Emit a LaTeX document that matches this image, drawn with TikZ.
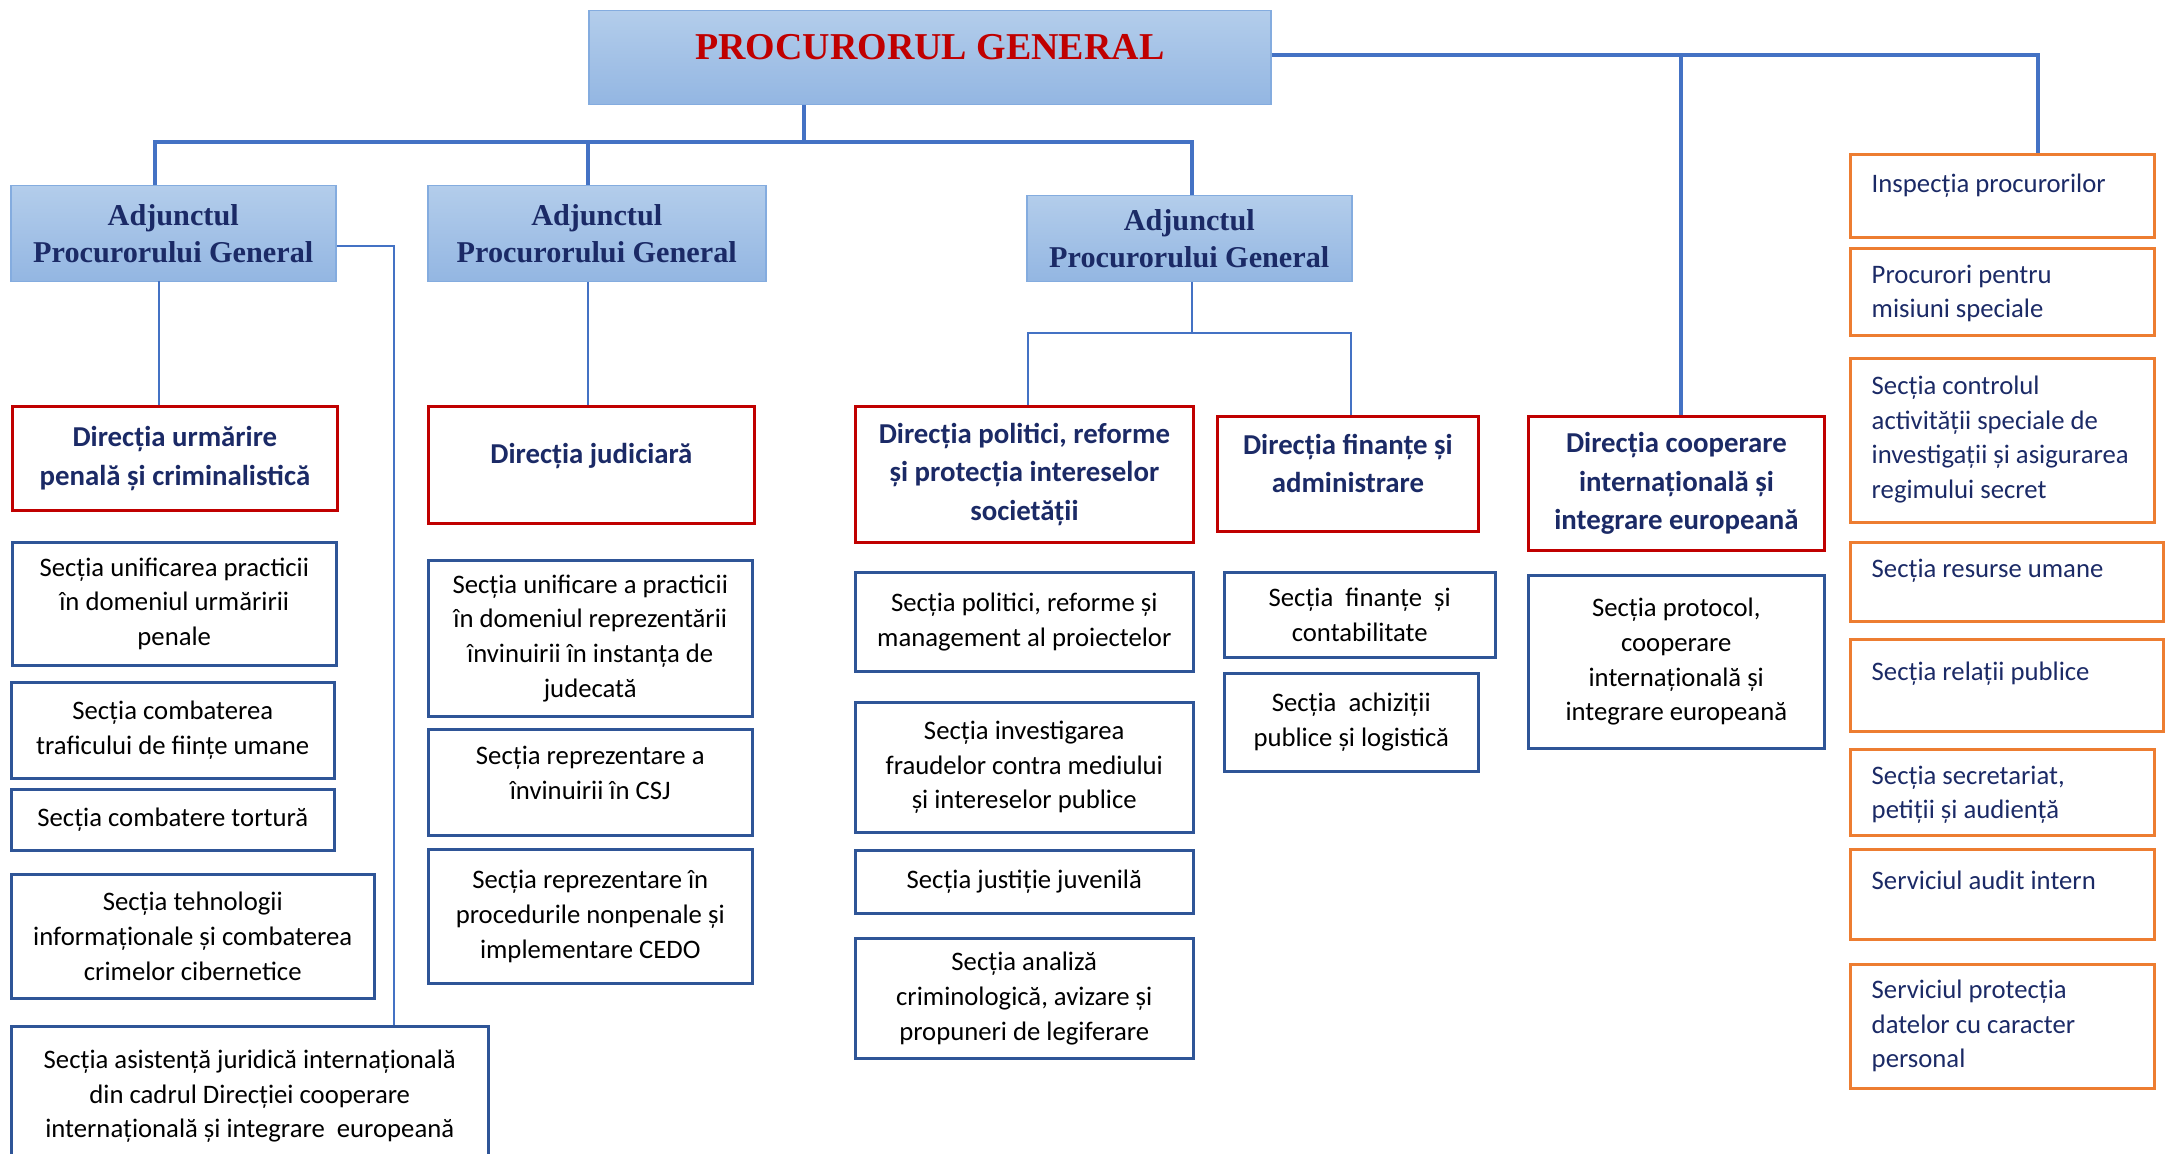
\documentclass[tikz,border=0pt]{standalone}
\usepackage{fontspec}
\setmainfont{Carlito}
\newfontfamily\timesfont{Liberation Serif}
\usetikzlibrary{positioning}

\definecolor{lineblue}{HTML}{4472C4}
\definecolor{boxred}{HTML}{C00000}
\definecolor{boxblue}{HTML}{2F5597}
\definecolor{boxorange}{HTML}{ED7D31}
\definecolor{navy}{HTML}{1B2A66}
\definecolor{headtop}{HTML}{B3CDEB}
\definecolor{headbot}{HTML}{93B6E2}
\definecolor{headline}{HTML}{84ACDF}

\tikzset{
  headbox/.style={draw=headline, line width=0.15mm, top color=headtop, bottom color=headbot,
    anchor=north west, inner sep=0pt, align=center,
    font=\timesfont\bfseries\fontsize{8.6}{10.6}\selectfont, text=navy},
  dirbox/.style={draw=boxred, line width=0.28mm, fill=white, anchor=north west, inner sep=0pt,
    align=center, font=\bfseries\fontsize{8.2}{11}\selectfont, text=navy},
  secbox/.style={draw=boxblue, line width=0.25mm, anchor=north west, inner sep=0pt,
    align=center, font=\fontsize{7.6}{9.9}\selectfont},
  sidebox/.style={draw=boxorange, line width=0.3mm, anchor=north west, inner sep=0pt},
  sidetext/.style={align=left, inner sep=0pt, font=\fontsize{7.6}{9.9}\selectfont, text=navy},
  trunk/.style={lineblue, line width=0.4mm},
  branch/.style={lineblue, line width=0.2mm},
}

\begin{document}
\begin{tikzpicture}[x=0.1mm, y=-0.1mm]

	\useasboundingbox (0,0) rectangle (2169,1154);
	\clip (0,0) rectangle (2169,1154);

	% top of the tree
	\node[headbox, minimum width=68.2mm, text height=4.9mm, text depth=4.5mm, inner ysep=0pt,
	      font=\timesfont\bfseries\fontsize{10.8}{12}\selectfont, text=boxred] (pg) at (588,10) {PROCURORUL GENERAL};

	\node[headbox, minimum width=32.5mm, minimum height=9.6mm] (a1) at (10,185) {Adjunctul\\Procurorului General};
	\node[headbox, minimum width=33.8mm, minimum height=9.6mm] (a2) at (427,185) {Adjunctul\\Procurorului General};
	\node[headbox, minimum width=32.5mm, minimum height=8.6mm] (a3) at (1026,195) {Adjunctul\\Procurorului General};

	% directions
	\node[dirbox, minimum width=32.5mm, minimum height=10.4mm] (d1) at (11,405) {Direcția urmărire\\penală și criminalistică};
	\node[dirbox, minimum width=32.6mm, minimum height=11.7mm, text depth=2.4mm] (d2) at (427,405) {Direcția judiciară};
	\node[dirbox, minimum width=33.8mm, minimum height=13.6mm] (d3) at (854,405) {Direcția politici, reforme\\și protecția intereselor\\societății};
	\node[dirbox, minimum width=26.1mm, minimum height=11.5mm, text depth=2.1mm] (d4) at (1216,415) {Direcția finanțe și\\administrare};
	\node[dirbox, minimum width=29.6mm, minimum height=13.4mm] (d5) at (1527,415) {Direcția cooperare\\internațională și\\integrare europeană};

	% sections
	\node[secbox, minimum width=32.4mm, minimum height=12.3mm] (s1a) at (11,541) {Secția unificarea practicii\\în domeniul urmăririi\\penale};
	\node[secbox, minimum width=32.3mm, minimum height=9.6mm] (s1b) at (10,681) {Secția combaterea\\traficului de ființe umane};
	\node[secbox, minimum width=32.3mm, minimum height=6.1mm] (s1c) at (10,788) {Secția combatere tortură};
	\node[secbox, minimum width=36.3mm, minimum height=12.4mm] (s1d) at (10,873) {Secția tehnologii\\informaționale și combaterea\\crimelor cibernetice};
	\node[secbox, minimum width=47.7mm, minimum height=14.0mm] (s1e) at (10,1025) {Secția asistență juridică internațională\\din cadrul Direcției cooperare\\internațională și integrare\ \ europeană};

	\node[secbox, minimum width=32.4mm, minimum height=15.6mm] (s2a) at (427,559) {Secția unificare a practicii\\în domeniul reprezentării\\învinuirii în instanța de\\judecată};
	\node[secbox, minimum width=32.4mm, minimum height=10.6mm, text depth=1.9mm] (s2b) at (427,728) {Secția reprezentare a\\învinuirii în CSJ};
	\node[secbox, minimum width=32.4mm, minimum height=13.4mm] (s2c) at (427,848) {Secția reprezentare în\\procedurile nonpenale și\\implementare CEDO};

	\node[secbox, minimum width=33.8mm, minimum height=9.9mm] (s3a) at (854,571) {Secția politici, reforme și\\management al proiectelor};
	\node[secbox, minimum width=33.8mm, minimum height=13.0mm] (s3b) at (854,701) {Secția investigarea\\fraudelor contra mediului\\și intereselor publice};
	\node[secbox, minimum width=33.8mm, minimum height=6.3mm] (s3c) at (854,849) {Secția justiție juvenilă};
	\node[secbox, minimum width=33.8mm, minimum height=12.0mm] (s3d) at (854,937) {Secția analiză\\criminologică, avizare și\\propuneri de legiferare};

	\node[secbox, minimum width=27.1mm, minimum height=8.5mm] (s4a) at (1223,571) {Secția\ \ finanțe\ \ și\\contabilitate};
	\node[secbox, minimum width=25.4mm, minimum height=9.8mm] (s4b) at (1223,672) {Secția\ \ achiziții\\publice și logistică};

	\node[secbox, minimum width=29.6mm, minimum height=17.3mm] (s5a) at (1527,574) {Secția protocol,\\cooperare\\internațională și\\integrare europeană};

	% right column
	\node[sidebox, minimum width=30.4mm, minimum height=8.3mm] (o1) at (1849,153) {};
	\node[sidebox, minimum width=30.4mm, minimum height=8.7mm] (o2) at (1849,247) {};
	\node[sidebox, minimum width=30.4mm, minimum height=16.4mm] (o3) at (1849,357) {};
	\node[sidebox, minimum width=31.3mm, minimum height=7.9mm] (o4) at (1849,541) {};
	\node[sidebox, minimum width=31.3mm, minimum height=9.2mm] (o5) at (1849,638) {};
	\node[sidebox, minimum width=30.4mm, minimum height=8.6mm] (o6) at (1849,748) {};
	\node[sidebox, minimum width=30.4mm, minimum height=9.0mm] (o7) at (1849,848) {};
	\node[sidebox, minimum width=30.4mm, minimum height=12.4mm] (o8) at (1849,963) {};

	\node[sidetext, below right=2.0mm and 2.2mm of o1.north west] (o1t) {Inspecția procurorilor};
	\node[sidetext, below right=1.7mm and 2.2mm of o2.north west] (o2t) {Procurori pentru\\misiuni speciale};
	\node[sidetext, below right=1.8mm and 2.2mm of o3.north west] (o3t) {Secția controlul\\activității speciale de\\investigații și asigurarea\\regimului secret};
	\node[sidetext, below right=1.7mm and 2.2mm of o4.north west] (o4t) {Secția resurse umane};
	\node[sidetext, below right=2.3mm and 2.2mm of o5.north west] (o5t) {Secția relații publice};
	\node[sidetext, below right=1.7mm and 2.2mm of o6.north west] (o6t) {Secția secretariat,\\petiții și audiență};
	\node[sidetext, below right=2.2mm and 2.2mm of o7.north west] (o7t) {Serviciul audit intern};
	\node[sidetext, below right=1.6mm and 2.2mm of o8.north west] (o8t) {Serviciul protecția\\datelor cu caracter\\personal};

	% connectors
	\coordinate (pgdown) at (804,142);
	\coordinate (busL) at (155,142);
	\coordinate (busM) at (588,142);
	\coordinate (busR) at (1192,142);
	\draw[trunk] (pgdown |- pg.south) -- (pgdown);
	\draw[trunk] (busL |- a1.north) -- (busL) -- (busR) -- (busR |- a3.north);
	\draw[trunk] (busM) -- (busM |- a2.north);

	\coordinate (topM) at (1681,55);
	\coordinate (topR) at (2038,55);
	\draw[trunk] (pg.east |- topR) -- (topR) -- (topR |- o1.north);
	\draw[trunk] (topM) -- (topM |- d5.north);

	\coordinate (a1down) at (159,281);
	\coordinate (a1side) at (394,246);
	\draw[branch] (a1down) -- (a1down |- d1.north);
	\draw[branch] (a1.east |- a1side) -- (a1side) -- (a1side |- s1e.north);
	\draw[branch] (busM |- a2.south) -- (busM |- d2.north);

	\coordinate (fork) at (1192,333);
	\coordinate (forkL) at (1028,333);
	\coordinate (forkR) at (1351,333);
	\draw[branch] (fork |- a3.south) -- (fork);
	\draw[branch] (forkL |- d3.north) -- (forkL) -- (forkR) -- (forkR |- d4.north);

\end{tikzpicture}
\end{document}
